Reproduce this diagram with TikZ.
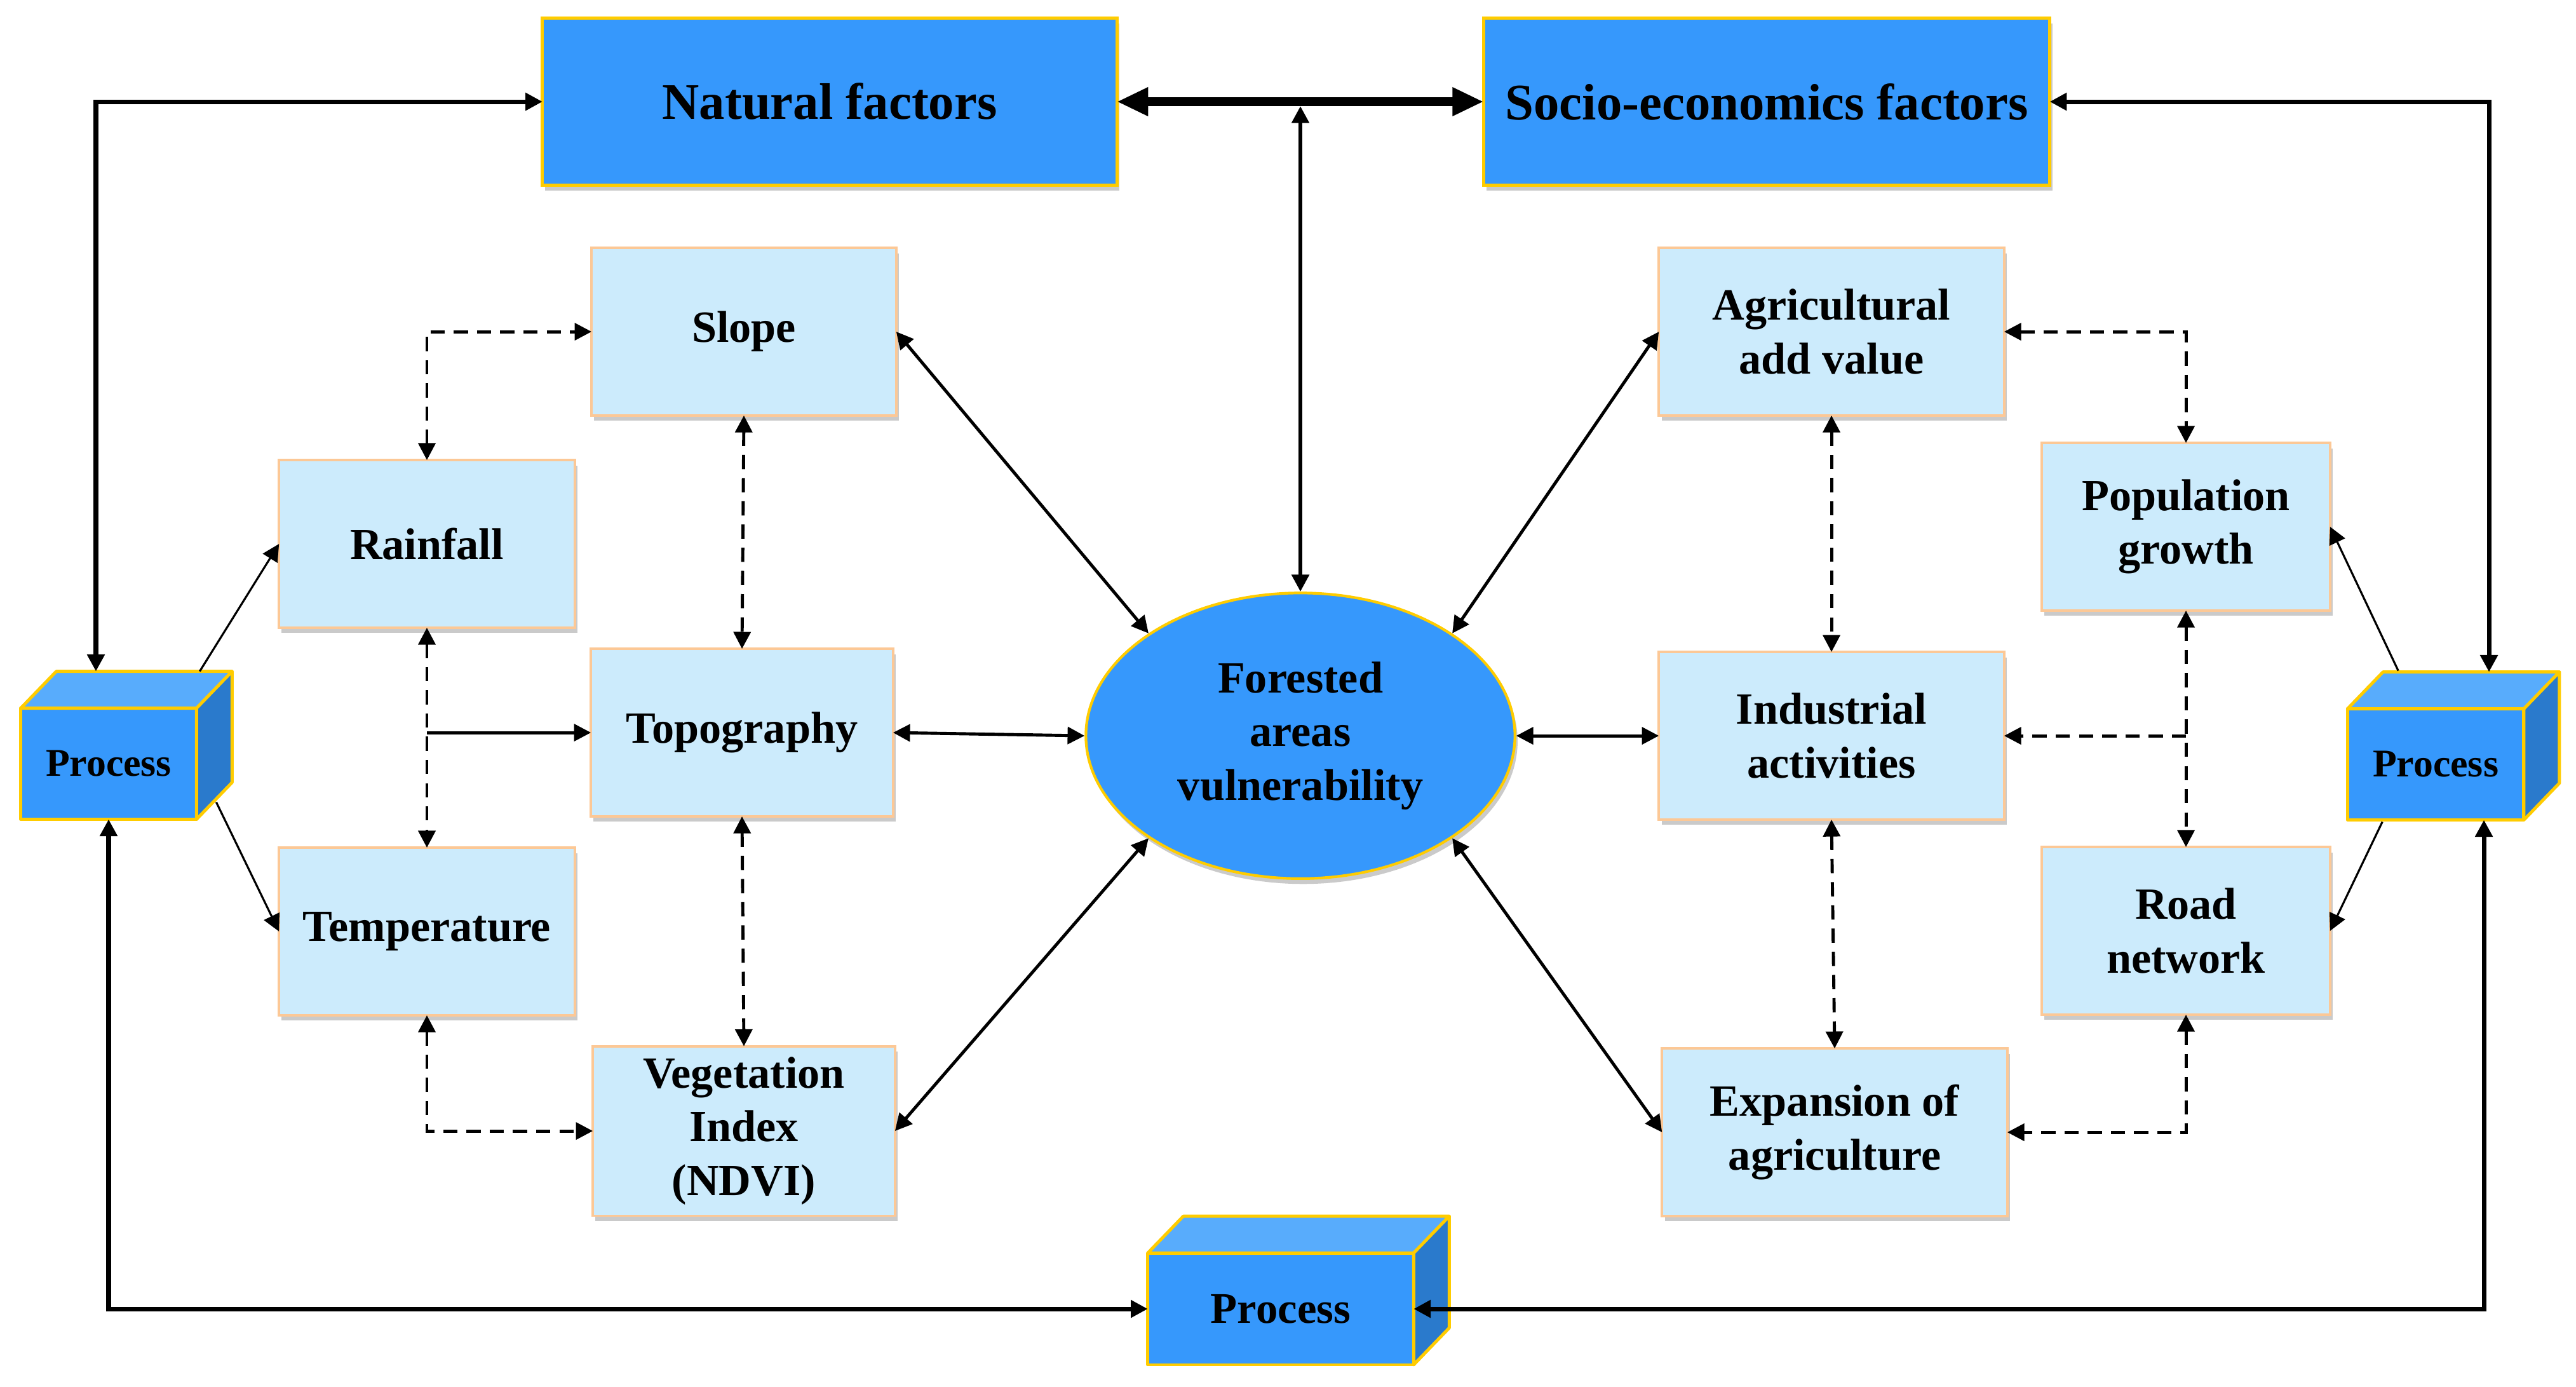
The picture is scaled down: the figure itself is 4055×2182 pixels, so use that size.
\documentclass[tikz,border=0pt]{standalone}
\usepackage{fontspec}
\setmainfont{Liberation Serif}
\usetikzlibrary{shapes.geometric, arrows.meta, positioning, shadows}
\definecolor{boxfill}{RGB}{204,235,252}
\definecolor{boxedge}{RGB}{252,200,150}
\definecolor{factorblue}{RGB}{54,152,252}
\definecolor{factoredge}{RGB}{255,204,0}
\definecolor{cubetopcol}{RGB}{88,172,252}
\definecolor{cubesidecol}{RGB}{42,122,204}
\tikzset{
    softshadow/.style={drop shadow={shadow xshift=0.6pt, shadow yshift=-1.2pt, opacity=0.35, fill=black!60}},
    block/.style={rectangle, draw=boxedge, line width=0.55pt, fill=boxfill, text centered, align=center, minimum height=1.32cm, font=\fontsize{10}{12}\selectfont\bfseries, inner sep=2pt, outer sep=0pt, softshadow},
    factor/.style={rectangle, draw=factoredge, line width=0.7pt, fill=factorblue, minimum height=1.32cm, font=\fontsize{11.5}{14}\selectfont\bfseries, outer sep=0pt, softshadow},
    hub/.style={ellipse, draw=factoredge, line width=0.6pt, fill=factorblue, minimum width=3.38cm, minimum height=2.25cm, inner sep=0pt, align=center, font=\fontsize{10}{12}\selectfont\bfseries, softshadow},
    process/.style={rectangle, draw=factoredge, line width=0.7pt, fill=factorblue, minimum height=0.875cm, outer sep=0pt, line join=round, font=\fontsize{8.8}{10}\selectfont\bfseries},
    cubetop/.style={draw=factoredge, line width=0.7pt, fill=cubetopcol, line join=round},
    cubeside/.style={draw=factoredge, line width=0.7pt, fill=cubesidecol, line join=round},
    tip/.style={>={Triangle[length=3.8pt, width=3.8pt]}},
    arrow/.style={tip, ->, line width=0.45pt},
    link/.style={tip, <->, line width=0.7pt},
    dline/.style={tip, line width=0.7pt, dash pattern=on 3.2pt off 2pt},
    dlink/.style={dline, <->},
    loopline/.style={tip, <->, line width=1pt}
}
\newcommand{\drawcube}[1]{%
    \filldraw[cubetop] (#1.north west) -- ([shift={(56,-58)}]#1.north west) -- ([shift={(56,-58)}]#1.north east) -- (#1.north east) -- cycle;
    \filldraw[cubeside] (#1.north east) -- ([shift={(56,-58)}]#1.north east) -- ([shift={(56,-58)}]#1.south east) -- (#1.south east) -- cycle;
}
\begin{document}
\begin{tikzpicture}[x=0.005cm, y=-0.005cm]
    \useasboundingbox (0,0) rectangle (4055,2182);

    % top factors and centre
    \node (natural) [factor, minimum width=4.525cm] at (1306,160) {Natural factors};
    \node (socio) [factor, minimum width=4.46cm] at (2781,160) {Socio-economics factors};
    \node (forest) [hub] at (2047,1158) {Forested\\areas\\vulnerability};

    % natural side
    \node (slope) [block, minimum width=2.4cm] at (1171,522) {Slope};
    \node (rain) [block, minimum width=2.33cm] at (672,856) {Rainfall};
    \node (topo) [block, minimum width=2.38cm] at (1168,1153) {Topography};
    \node (temp) [block, minimum width=2.33cm] at (672,1466) {Temperature};
    \node (veg) [block, minimum width=2.38cm, minimum height=1.335cm] at (1171,1780) {Vegetation\\Index\\(NDVI)};

    % socio-economic side
    \node (agri) [block, minimum width=2.72cm] at (2883,522) {Agricultural\\add value};
    \node (pop) [block, minimum width=2.27cm] at (3441,829) {Population\\growth};
    \node (ind) [block, minimum width=2.72cm] at (2883,1158) {Industrial\\activities};
    \node (road) [block, minimum width=2.27cm] at (3441,1465) {Road\\network};
    \node (expa) [block, minimum width=2.72cm] at (2888,1782) {Expansion of\\agriculture};

    % process cubes
    \node (procL) [process, minimum width=1.385cm] at (171,1202) {Process};
    \node (procR) [process, minimum width=1.39cm] at (3834,1203) {Process};
    \node (procB) [process, minimum width=2.095cm, minimum height=0.88cm, font=\fontsize{9.8}{11}\selectfont\bfseries] at (2016,2060) {Process};
    \drawcube{procL}
    \drawcube{procR}
    \drawcube{procB}

    % main links
    \draw [line width=1.9pt, <->, >={Triangle[length=7pt, width=6pt]}] (natural.east) -- (socio.west);
    \coordinate (mid) at (forest.north |- natural.east);
    \draw [link, line width=0.9pt, shorten <=1pt] (mid) -- (forest.north);

    % process loops
    \draw [loopline] ([shift={(-20,-58)}]procL.north) |- (natural.west);
    \draw [loopline] ([shift={(84,-58)}]procR.north) |- (socio.east);
    \draw [loopline] (procL.south) |- (procB.west);
    \draw [loopline] ([shift={(76,0)}]procR.south) |- (procB.east);

    \draw [arrow] ([shift={(5,-58)}]procL.north east) -- (rain.west);
    \draw [arrow] ([shift={(31,-27)}]procL.south east) -- (temp.west);
    \draw [arrow] ([shift={(80,-60)}]procR.north west) -- (pop.east);
    \draw [arrow] ([shift={(55,3)}]procR.south west) -- (road.east);

    % to the centre
    \draw [link] (slope.east) -- (forest.146);
    \draw [link] (topo.east) -- (forest.west);
    \draw [link] (veg.east) -- (forest.214);
    \draw [link] (agri.west) -- (forest.34);
    \draw [link] (ind.west) -- (forest.east);
    \draw [link] (expa.west) -- (forest.326);

    % dashed relations
    \draw [dlink] (rain.north) |- (slope.west);
    \draw [dlink] (slope.south) -- (topo.north);
    \draw [dlink] (rain.south) -- (temp.north);
    \draw [tip, ->, line width=0.7pt] (rain.south |- topo.west) -- (topo.west);
    \draw [dlink] (topo.south) -- (veg.north);
    \draw [dlink] (temp.south) |- (veg.west);
    \draw [dlink] (agri.east) -| (pop.north);
    \draw [dlink] (agri.south) -- (ind.north);
    \draw [dlink] (ind.south) -- (expa.north);
    \draw [dlink] (pop.south) -- (road.north);
    \draw [dline, ->] (pop.south |- ind.east) -- (ind.east);
    \draw [dlink] (road.south) |- (expa.east);
\end{tikzpicture}
\end{document}
